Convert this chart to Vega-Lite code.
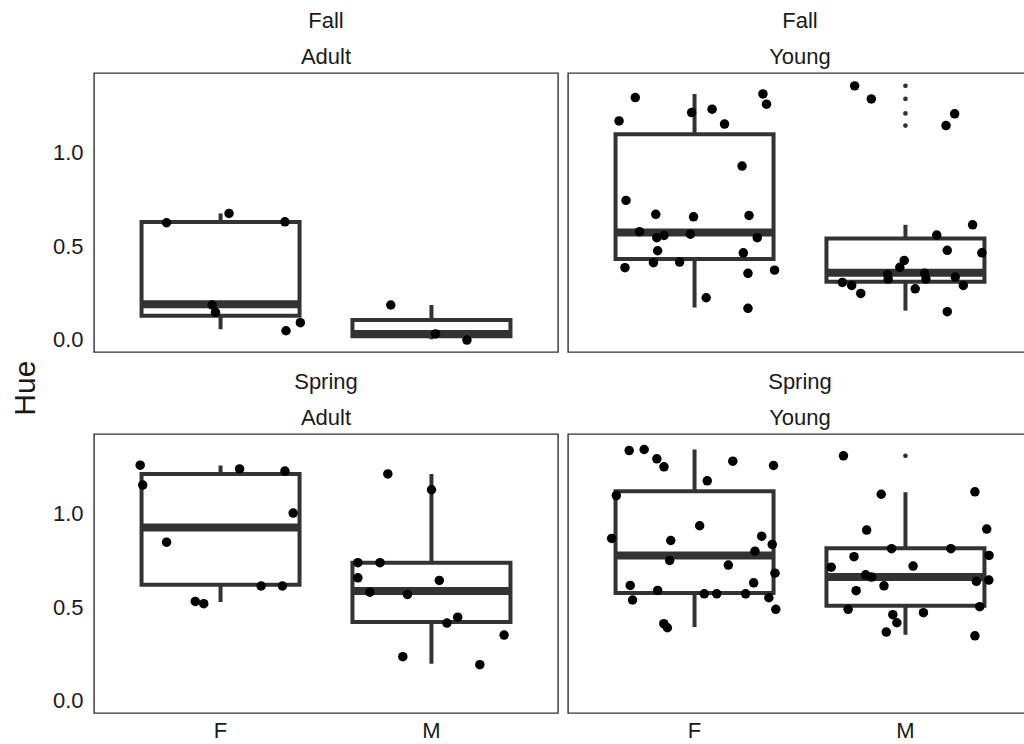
{
  "$schema": "https://vega.github.io/schema/vega-lite/v6.json",
  "background": "white",
  "padding": {"left": 11, "top": 9, "right": 0, "bottom": 0},
  "title": {"text": "Hue", "orient": "left", "anchor": "middle", "font": "Liberation Sans", "fontSize": 30, "fontWeight": "normal", "color": "#1a1a1a", "offset": 11, "dx": -13},
  "data": {"values": [
    {"k": "box", "p": "Fall|Adult", "sex": "F", "lo": 0.054, "q1": 0.127, "med": 0.188, "q3": 0.629, "hi": 0.675},
    {"k": "box", "p": "Fall|Adult", "sex": "M", "lo": 0.0, "q1": 0.016, "med": 0.029, "q3": 0.104, "hi": 0.184},
    {"k": "box", "p": "Fall|Young", "sex": "F", "lo": 0.17, "q1": 0.43, "med": 0.573, "q3": 1.1, "hi": 1.316},
    {"k": "box", "p": "Fall|Young", "sex": "M", "lo": 0.154, "q1": 0.309, "med": 0.357, "q3": 0.541, "hi": 0.614},
    {"k": "box", "p": "Spring|Adult", "sex": "F", "lo": 0.527, "q1": 0.62, "med": 0.927, "q3": 1.214, "hi": 1.259},
    {"k": "box", "p": "Spring|Adult", "sex": "M", "lo": 0.196, "q1": 0.42, "med": 0.586, "q3": 0.738, "hi": 1.214},
    {"k": "box", "p": "Spring|Young", "sex": "F", "lo": 0.393, "q1": 0.575, "med": 0.777, "q3": 1.121, "hi": 1.345},
    {"k": "box", "p": "Spring|Young", "sex": "M", "lo": 0.352, "q1": 0.507, "med": 0.661, "q3": 0.816, "hi": 1.116},
    {"k": "out", "p": "Fall|Young", "sex": "M", "hue": 1.359},
    {"k": "out", "p": "Fall|Young", "sex": "M", "hue": 1.289},
    {"k": "out", "p": "Fall|Young", "sex": "M", "hue": 1.211},
    {"k": "out", "p": "Fall|Young", "sex": "M", "hue": 1.146},
    {"k": "out", "p": "Spring|Young", "sex": "M", "hue": 1.311},

    {"k": "pt", "p": "Fall|Adult", "sex": "F", "hue": 0.625, "j": -0.256},
    {"k": "pt", "p": "Fall|Adult", "sex": "F", "hue": 0.675, "j": 0.04},
    {"k": "pt", "p": "Fall|Adult", "sex": "F", "hue": 0.63, "j": 0.305},
    {"k": "pt", "p": "Fall|Adult", "sex": "F", "hue": 0.184, "j": -0.04},
    {"k": "pt", "p": "Fall|Adult", "sex": "F", "hue": 0.145, "j": -0.024},
    {"k": "pt", "p": "Fall|Adult", "sex": "F", "hue": 0.046, "j": 0.31},
    {"k": "pt", "p": "Fall|Adult", "sex": "F", "hue": 0.089, "j": 0.378},
    {"k": "pt", "p": "Fall|Adult", "sex": "M", "hue": 0.184, "j": -0.193},
    {"k": "pt", "p": "Fall|Adult", "sex": "M", "hue": 0.029, "j": 0.019},
    {"k": "pt", "p": "Fall|Adult", "sex": "M", "hue": -0.004, "j": 0.168},

    {"k": "pt", "p": "Fall|Young", "sex": "F", "hue": 1.296, "j": -0.281},
    {"k": "pt", "p": "Fall|Young", "sex": "F", "hue": 1.171, "j": -0.358},
    {"k": "pt", "p": "Fall|Young", "sex": "F", "hue": 1.216, "j": -0.014},
    {"k": "pt", "p": "Fall|Young", "sex": "F", "hue": 1.234, "j": 0.083},
    {"k": "pt", "p": "Fall|Young", "sex": "F", "hue": 1.154, "j": 0.142},
    {"k": "pt", "p": "Fall|Young", "sex": "F", "hue": 1.316, "j": 0.324},
    {"k": "pt", "p": "Fall|Young", "sex": "F", "hue": 1.261, "j": 0.341},
    {"k": "pt", "p": "Fall|Young", "sex": "F", "hue": 0.929, "j": 0.225},
    {"k": "pt", "p": "Fall|Young", "sex": "F", "hue": 0.745, "j": -0.325},
    {"k": "pt", "p": "Fall|Young", "sex": "F", "hue": 0.67, "j": -0.184},
    {"k": "pt", "p": "Fall|Young", "sex": "F", "hue": 0.657, "j": -0.005},
    {"k": "pt", "p": "Fall|Young", "sex": "F", "hue": 0.664, "j": 0.258},
    {"k": "pt", "p": "Fall|Young", "sex": "F", "hue": 0.577, "j": -0.261},
    {"k": "pt", "p": "Fall|Young", "sex": "F", "hue": 0.545, "j": -0.179},
    {"k": "pt", "p": "Fall|Young", "sex": "F", "hue": 0.557, "j": -0.145},
    {"k": "pt", "p": "Fall|Young", "sex": "F", "hue": 0.564, "j": -0.02},
    {"k": "pt", "p": "Fall|Young", "sex": "F", "hue": 0.545, "j": 0.297},
    {"k": "pt", "p": "Fall|Young", "sex": "F", "hue": 0.475, "j": -0.175},
    {"k": "pt", "p": "Fall|Young", "sex": "F", "hue": 0.464, "j": 0.231},
    {"k": "pt", "p": "Fall|Young", "sex": "F", "hue": 0.384, "j": -0.33},
    {"k": "pt", "p": "Fall|Young", "sex": "F", "hue": 0.411, "j": -0.195},
    {"k": "pt", "p": "Fall|Young", "sex": "F", "hue": 0.414, "j": -0.071},
    {"k": "pt", "p": "Fall|Young", "sex": "F", "hue": 0.371, "j": 0.379},
    {"k": "pt", "p": "Fall|Young", "sex": "F", "hue": 0.354, "j": 0.253},
    {"k": "pt", "p": "Fall|Young", "sex": "F", "hue": 0.223, "j": 0.055},
    {"k": "pt", "p": "Fall|Young", "sex": "F", "hue": 0.166, "j": 0.253},
    {"k": "pt", "p": "Fall|Young", "sex": "M", "hue": 1.359, "j": -0.241},
    {"k": "pt", "p": "Fall|Young", "sex": "M", "hue": 1.289, "j": -0.162},
    {"k": "pt", "p": "Fall|Young", "sex": "M", "hue": 1.209, "j": 0.233},
    {"k": "pt", "p": "Fall|Young", "sex": "M", "hue": 1.146, "j": 0.192},
    {"k": "pt", "p": "Fall|Young", "sex": "M", "hue": 0.614, "j": 0.318},
    {"k": "pt", "p": "Fall|Young", "sex": "M", "hue": 0.559, "j": 0.148},
    {"k": "pt", "p": "Fall|Young", "sex": "M", "hue": 0.477, "j": 0.198},
    {"k": "pt", "p": "Fall|Young", "sex": "M", "hue": 0.464, "j": 0.362},
    {"k": "pt", "p": "Fall|Young", "sex": "M", "hue": 0.423, "j": -0.006},
    {"k": "pt", "p": "Fall|Young", "sex": "M", "hue": 0.386, "j": -0.027},
    {"k": "pt", "p": "Fall|Young", "sex": "M", "hue": 0.348, "j": -0.085},
    {"k": "pt", "p": "Fall|Young", "sex": "M", "hue": 0.323, "j": -0.082},
    {"k": "pt", "p": "Fall|Young", "sex": "M", "hue": 0.354, "j": 0.091},
    {"k": "pt", "p": "Fall|Young", "sex": "M", "hue": 0.323, "j": 0.097},
    {"k": "pt", "p": "Fall|Young", "sex": "M", "hue": 0.334, "j": 0.236},
    {"k": "pt", "p": "Fall|Young", "sex": "M", "hue": 0.305, "j": -0.299},
    {"k": "pt", "p": "Fall|Young", "sex": "M", "hue": 0.289, "j": -0.255},
    {"k": "pt", "p": "Fall|Young", "sex": "M", "hue": 0.246, "j": -0.212},
    {"k": "pt", "p": "Fall|Young", "sex": "M", "hue": 0.271, "j": 0.046},
    {"k": "pt", "p": "Fall|Young", "sex": "M", "hue": 0.289, "j": 0.274},
    {"k": "pt", "p": "Fall|Young", "sex": "M", "hue": 0.148, "j": 0.198},

    {"k": "pt", "p": "Spring|Adult", "sex": "F", "hue": 1.261, "j": -0.381},
    {"k": "pt", "p": "Spring|Adult", "sex": "F", "hue": 1.154, "j": -0.369},
    {"k": "pt", "p": "Spring|Adult", "sex": "F", "hue": 1.241, "j": 0.09},
    {"k": "pt", "p": "Spring|Adult", "sex": "F", "hue": 1.229, "j": 0.305},
    {"k": "pt", "p": "Spring|Adult", "sex": "F", "hue": 1.004, "j": 0.344},
    {"k": "pt", "p": "Spring|Adult", "sex": "F", "hue": 0.848, "j": -0.256},
    {"k": "pt", "p": "Spring|Adult", "sex": "F", "hue": 0.613, "j": 0.192},
    {"k": "pt", "p": "Spring|Adult", "sex": "F", "hue": 0.613, "j": 0.293},
    {"k": "pt", "p": "Spring|Adult", "sex": "F", "hue": 0.53, "j": -0.12},
    {"k": "pt", "p": "Spring|Adult", "sex": "F", "hue": 0.518, "j": -0.08},
    {"k": "pt", "p": "Spring|Adult", "sex": "M", "hue": 1.214, "j": -0.207},
    {"k": "pt", "p": "Spring|Adult", "sex": "M", "hue": 1.129, "j": 0.0},
    {"k": "pt", "p": "Spring|Adult", "sex": "M", "hue": 0.738, "j": -0.349},
    {"k": "pt", "p": "Spring|Adult", "sex": "M", "hue": 0.738, "j": -0.244},
    {"k": "pt", "p": "Spring|Adult", "sex": "M", "hue": 0.657, "j": -0.349},
    {"k": "pt", "p": "Spring|Adult", "sex": "M", "hue": 0.643, "j": 0.037},
    {"k": "pt", "p": "Spring|Adult", "sex": "M", "hue": 0.58, "j": -0.292},
    {"k": "pt", "p": "Spring|Adult", "sex": "M", "hue": 0.568, "j": -0.114},
    {"k": "pt", "p": "Spring|Adult", "sex": "M", "hue": 0.414, "j": 0.073},
    {"k": "pt", "p": "Spring|Adult", "sex": "M", "hue": 0.446, "j": 0.124},
    {"k": "pt", "p": "Spring|Adult", "sex": "M", "hue": 0.35, "j": 0.344},
    {"k": "pt", "p": "Spring|Adult", "sex": "M", "hue": 0.234, "j": -0.136},
    {"k": "pt", "p": "Spring|Adult", "sex": "M", "hue": 0.191, "j": 0.229},

    {"k": "pt", "p": "Spring|Young", "sex": "F", "hue": 1.339, "j": -0.31},
    {"k": "pt", "p": "Spring|Young", "sex": "F", "hue": 1.345, "j": -0.239},
    {"k": "pt", "p": "Spring|Young", "sex": "F", "hue": 1.295, "j": -0.179},
    {"k": "pt", "p": "Spring|Young", "sex": "F", "hue": 1.252, "j": -0.145},
    {"k": "pt", "p": "Spring|Young", "sex": "F", "hue": 1.282, "j": 0.181},
    {"k": "pt", "p": "Spring|Young", "sex": "F", "hue": 1.259, "j": 0.374},
    {"k": "pt", "p": "Spring|Young", "sex": "F", "hue": 1.177, "j": 0.06},
    {"k": "pt", "p": "Spring|Young", "sex": "F", "hue": 1.098, "j": -0.371},
    {"k": "pt", "p": "Spring|Young", "sex": "F", "hue": 0.936, "j": 0.024},
    {"k": "pt", "p": "Spring|Young", "sex": "F", "hue": 0.868, "j": -0.393},
    {"k": "pt", "p": "Spring|Young", "sex": "F", "hue": 0.857, "j": -0.113},
    {"k": "pt", "p": "Spring|Young", "sex": "F", "hue": 0.88, "j": 0.318},
    {"k": "pt", "p": "Spring|Young", "sex": "F", "hue": 0.836, "j": 0.368},
    {"k": "pt", "p": "Spring|Young", "sex": "F", "hue": 0.8, "j": 0.286},
    {"k": "pt", "p": "Spring|Young", "sex": "F", "hue": 0.75, "j": -0.118},
    {"k": "pt", "p": "Spring|Young", "sex": "F", "hue": 0.725, "j": 0.16},
    {"k": "pt", "p": "Spring|Young", "sex": "F", "hue": 0.682, "j": 0.381},
    {"k": "pt", "p": "Spring|Young", "sex": "F", "hue": 0.616, "j": -0.305},
    {"k": "pt", "p": "Spring|Young", "sex": "F", "hue": 0.63, "j": 0.28},
    {"k": "pt", "p": "Spring|Young", "sex": "F", "hue": 0.589, "j": -0.175},
    {"k": "pt", "p": "Spring|Young", "sex": "F", "hue": 0.571, "j": 0.046},
    {"k": "pt", "p": "Spring|Young", "sex": "F", "hue": 0.571, "j": 0.105},
    {"k": "pt", "p": "Spring|Young", "sex": "F", "hue": 0.571, "j": 0.242},
    {"k": "pt", "p": "Spring|Young", "sex": "F", "hue": 0.538, "j": -0.294},
    {"k": "pt", "p": "Spring|Young", "sex": "F", "hue": 0.55, "j": 0.352},
    {"k": "pt", "p": "Spring|Young", "sex": "F", "hue": 0.488, "j": 0.385},
    {"k": "pt", "p": "Spring|Young", "sex": "F", "hue": 0.411, "j": -0.146},
    {"k": "pt", "p": "Spring|Young", "sex": "F", "hue": 0.389, "j": -0.129},
    {"k": "pt", "p": "Spring|Young", "sex": "M", "hue": 1.311, "j": -0.294},
    {"k": "pt", "p": "Spring|Young", "sex": "M", "hue": 1.105, "j": -0.115},
    {"k": "pt", "p": "Spring|Young", "sex": "M", "hue": 1.118, "j": 0.329},
    {"k": "pt", "p": "Spring|Young", "sex": "M", "hue": 0.913, "j": -0.184},
    {"k": "pt", "p": "Spring|Young", "sex": "M", "hue": 0.918, "j": 0.385},
    {"k": "pt", "p": "Spring|Young", "sex": "M", "hue": 0.813, "j": -0.066},
    {"k": "pt", "p": "Spring|Young", "sex": "M", "hue": 0.813, "j": 0.215},
    {"k": "pt", "p": "Spring|Young", "sex": "M", "hue": 0.777, "j": 0.396},
    {"k": "pt", "p": "Spring|Young", "sex": "M", "hue": 0.77, "j": -0.244},
    {"k": "pt", "p": "Spring|Young", "sex": "M", "hue": 0.714, "j": -0.352},
    {"k": "pt", "p": "Spring|Young", "sex": "M", "hue": 0.72, "j": 0.036},
    {"k": "pt", "p": "Spring|Young", "sex": "M", "hue": 0.673, "j": -0.189},
    {"k": "pt", "p": "Spring|Young", "sex": "M", "hue": 0.661, "j": -0.161},
    {"k": "pt", "p": "Spring|Young", "sex": "M", "hue": 0.614, "j": -0.102},
    {"k": "pt", "p": "Spring|Young", "sex": "M", "hue": 0.638, "j": 0.336},
    {"k": "pt", "p": "Spring|Young", "sex": "M", "hue": 0.645, "j": 0.395},
    {"k": "pt", "p": "Spring|Young", "sex": "M", "hue": 0.588, "j": -0.234},
    {"k": "pt", "p": "Spring|Young", "sex": "M", "hue": 0.502, "j": 0.352},
    {"k": "pt", "p": "Spring|Young", "sex": "M", "hue": 0.488, "j": -0.272},
    {"k": "pt", "p": "Spring|Young", "sex": "M", "hue": 0.47, "j": 0.085},
    {"k": "pt", "p": "Spring|Young", "sex": "M", "hue": 0.459, "j": -0.06},
    {"k": "pt", "p": "Spring|Young", "sex": "M", "hue": 0.416, "j": -0.041},
    {"k": "pt", "p": "Spring|Young", "sex": "M", "hue": 0.366, "j": -0.091},
    {"k": "pt", "p": "Spring|Young", "sex": "M", "hue": 0.346, "j": 0.329}
  ]},
  "columns": 2,
  "facet": {
    "field": "p",
    "type": "nominal",
    "title": null,
    "header": {
      "labelExpr": "split(datum.value, '|')",
      "labelFont": "Liberation Sans",
      "labelFontSize": 22,
      "labelColor": "#1a1a1a",
      "labelLineHeight": 36,
      "labelPadding": 4
    }
  },
  "spacing": {"row": 17, "column": 8},
  "spec": {
    "width": 464,
    "height": 279,
    "encoding": {
      "x": {
        "field": "sex",
        "type": "nominal",
        "scale": {"type": "band", "paddingInner": 0, "paddingOuter": 0.1},
        "axis": {"title": null, "labelAngle": 0, "ticks": false, "domain": false, "labelFontSize": 22, "labelPadding": 6, "labelColor": "#1a1a1a", "labelFont": "Liberation Sans"}
      }
    },
    "layer": [
      {
        "transform": [{"filter": "datum.k == 'box'"}],
        "mark": {"type": "rule", "color": "#333333", "strokeWidth": 4},
        "encoding": {
          "y": {"field": "lo", "type": "quantitative", "title": null, "scale": {"domain": [-0.068, 1.428], "nice": false, "zero": false},
            "axis": {"values": [0, 0.5, 1], "format": ".1f", "grid": false, "ticks": false, "domain": false, "labelFontSize": 22, "labelPadding": 10, "labelColor": "#1a1a1a", "labelFont": "Liberation Sans"}},
          "y2": {"field": "hi"}
        }
      },
      {
        "transform": [{"filter": "datum.k == 'box'"}],
        "mark": {"type": "bar", "fill": "white", "stroke": "#333333", "strokeWidth": 4, "width": 158},
        "encoding": {
          "y": {"field": "q1", "type": "quantitative", "title": null},
          "y2": {"field": "q3"}
        }
      },
      {
        "transform": [{"filter": "datum.k == 'box'"}],
        "mark": {"type": "tick", "color": "#333333", "thickness": 8, "size": 158, "orient": "horizontal", "opacity": 1},
        "encoding": {
          "y": {"field": "med", "type": "quantitative", "title": null}
        }
      },
      {
        "transform": [{"filter": "datum.k == 'out'"}],
        "mark": {"type": "point", "filled": true, "color": "#333333", "size": 22, "opacity": 1},
        "encoding": {
          "y": {"field": "hue", "type": "quantitative", "title": null}
        }
      },
      {
        "transform": [{"filter": "datum.k == 'pt'"}],
        "mark": {"type": "point", "filled": true, "color": "black", "size": 90, "opacity": 1},
        "encoding": {
          "y": {"field": "hue", "type": "quantitative", "title": null},
          "xOffset": {"field": "j", "type": "quantitative", "scale": {"domain": [-1, 1], "range": [-105.5, 316.5]}}
        }
      }
    ]
  },
  "config": {
    "view": {"stroke": "#333333", "strokeWidth": 1.4},
    "font": "Liberation Sans"
  }
}
